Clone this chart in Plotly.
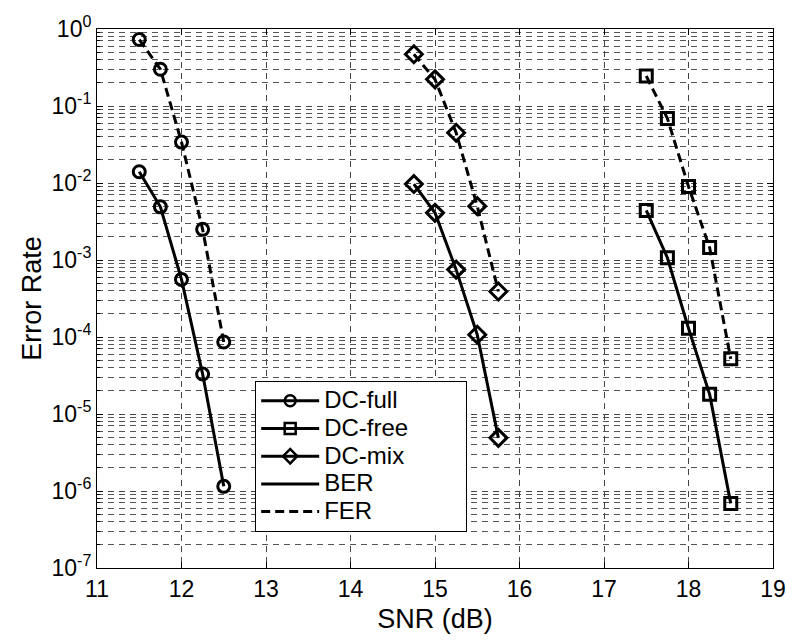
import plotly.graph_objects as go

# SNR points (dB) and measured error rates per code construction
snr_full = [11.5, 11.75, 12.0, 12.25, 12.5]
ber_full = [1.4e-2, 4.9e-3, 5.6e-4, 3.3e-5, 1.15e-6]
fer_full = [0.73, 0.30, 3.4e-2, 2.5e-3, 8.6e-5]

snr_mix = [14.75, 15.0, 15.25, 15.5, 15.75]
ber_mix = [9.7e-3, 4.1e-3, 7.5e-4, 1.07e-4, 4.9e-6]
fer_mix = [0.47, 0.222, 4.5e-2, 5.0e-3, 3.9e-4]

snr_free = [17.5, 17.75, 18.0, 18.25, 18.5]
ber_free = [4.4e-3, 1.07e-3, 1.3e-4, 1.8e-5, 6.9e-7]
fer_free = [0.245, 6.9e-2, 9.0e-3, 1.45e-3, 5.2e-5]

x_ticks = [11, 12, 13, 14, 15, 16, 17, 18, 19]
y_exponents = [0, -1, -2, -3, -4, -5, -6, -7]

FONT = "Liberation Sans, Arial, Helvetica, sans-serif"
LW = 3
DASH = "9px,5px"
PAD = "\u00a0" * 10

fig = go.Figure()

series = [
    (snr_full, ber_full, fer_full, "circle-open", 12),
    (snr_mix, ber_mix, fer_mix, "diamond-open", 13),
    (snr_free, ber_free, fer_free, "square-open", 12),
]
for snr, ber, fer, sym, size in series:
    mk = dict(symbol=sym, size=size, color="black", line=dict(width=3, color="black"))
    fig.add_trace(go.Scatter(x=snr, y=ber, mode="lines+markers", showlegend=False,
                             line=dict(color="black", width=LW), marker=mk))
    fig.add_trace(go.Scatter(x=snr, y=fer, mode="lines+markers", showlegend=False,
                             line=dict(color="black", width=LW, dash=DASH), marker=mk))

# legend keys
legend_items = [
    ("DC-full", "lines+markers", "circle-open", None),
    ("DC-free", "lines+markers", "square-open", None),
    ("DC-mix", "lines+markers", "diamond-open", None),
    ("BER", "lines", None, None),
    ("FER", "lines", None, DASH),
]
for name, mode, sym, dash in legend_items:
    label = '<span style="font-size:24px">%s</span>%s' % (name, PAD)
    kw = dict(x=[None], y=[None], mode=mode, name=label,
              line=dict(color="black", width=LW, dash=dash))
    if sym:
        kw["marker"] = dict(symbol=sym, size=11, color="black", line=dict(width=2.5, color="black"))
    fig.add_trace(go.Scatter(**kw))

fig.update_layout(
    width=798, height=641,
    margin=dict(l=97, r=18, t=26, b=73),
    paper_bgcolor="white", plot_bgcolor="white",
    font=dict(family=FONT, size=23, color="black"),
    legend=dict(x=0.234, y=0.347, xanchor="left", yanchor="top",
                bordercolor="black", borderwidth=1, bgcolor="white",
                font=dict(size=19), itemwidth=58, tracegroupgap=0),
)

fig.update_xaxes(
    range=[11, 19], tickvals=x_ticks, ticktext=[str(v) for v in x_ticks],
    showline=True, linecolor="black", linewidth=1, mirror="ticks",
    ticks="inside", ticklen=6, tickcolor="black",
    showgrid=True, gridcolor="#444", griddash="6px,5px", gridwidth=1,
    zeroline=False,
    title=dict(text="SNR (dB)", font=dict(size=27), standoff=8),
    tickfont=dict(size=23),
)
fig.update_yaxes(
    type="log", range=[-7, 0],
    tickvals=[10 ** e for e in y_exponents],
    ticktext=["10<sup>%d</sup>" % e for e in y_exponents],
    showline=True, linecolor="black", linewidth=1, mirror="ticks",
    ticks="inside", ticklen=6, tickcolor="black",
    showgrid=True, gridcolor="#444", griddash="6px,5px", gridwidth=1,
    minor=dict(dtick="D1", showgrid=True, gridcolor="#555", griddash="6px,5px",
               ticks="inside", ticklen=3, tickcolor="black"),
    zeroline=False,
    title=dict(text="Error Rate", font=dict(size=27), standoff=2),
    tickfont=dict(size=23),
)

fig.write_html("out.html")
